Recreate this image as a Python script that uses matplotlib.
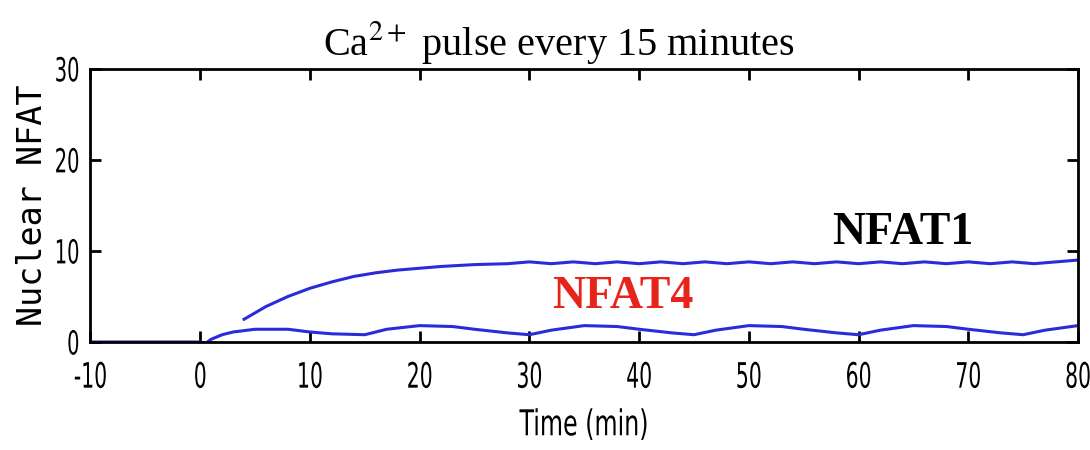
import matplotlib
matplotlib.use("Agg")
import matplotlib.pyplot as plt
from matplotlib.patheffects import AbstractPathEffect
from matplotlib.transforms import Affine2D

# values
nfat1_t = [4, 6, 8, 10, 12, 14, 16, 18, 20, 22, 25, 28, 30, 32, 34, 36, 38, 40,
           42, 44, 46, 48, 50, 52, 54, 56, 58, 60, 62, 64, 66, 68, 70, 72, 74,
           76, 78, 80]
nfat1_y = [2.5, 3.9, 5.0, 5.9, 6.6, 7.2, 7.6, 7.9, 8.1, 8.3, 8.5, 8.6, 8.8, 8.6,
           8.8, 8.6, 8.8, 8.6, 8.8, 8.6, 8.8, 8.6, 8.8, 8.6, 8.8, 8.6, 8.8, 8.6,
           8.8, 8.6, 8.8, 8.6, 8.8, 8.6, 8.8, 8.6, 8.8, 9.0]

nfat4_t = [-10, 0, 0.5, 1, 2, 3, 5, 8, 10, 12, 15, 17, 20, 23, 25, 28, 30, 32,
           35, 38, 40, 43, 45, 47, 50, 53, 55, 58, 60, 62, 65, 68, 70, 73, 75,
           77, 80]
nfat4_y = [0, 0, -0.15, 0.3, 0.8, 1.1, 1.4, 1.4, 1.1, 0.9, 0.8, 1.4, 1.8, 1.7,
           1.4, 1.0, 0.8, 1.3, 1.8, 1.7, 1.4, 1.0, 0.8, 1.3, 1.8, 1.7, 1.4, 1.0,
           0.8, 1.3, 1.8, 1.7, 1.4, 1.0, 0.8, 1.3, 1.8]

xticks = [-10, 0, 10, 20, 30, 40, 50, 60, 70, 80]
yticks = [0, 10, 20, 30]

plt.rcParams['mathtext.fontset'] = 'stix'
plt.rcParams['axes.unicode_minus'] = False
plt.rcParams['path.simplify'] = False


class Squeeze(AbstractPathEffect):
    """draw text narrower and taller (old matlab screen font look)"""
    def __init__(self, sx=0.8, sy=1.3, anchor='center'):
        super().__init__()
        self.sx, self.sy, self.anchor = sx, sy, anchor

    def draw_path(self, renderer, gc, tpath, affine, rgbFace=None):
        bb = tpath.get_extents(affine)
        cx = bb.x1 if self.anchor == 'right' else (bb.x0 + bb.x1) / 2
        cy = (bb.y0 + bb.y1) / 2
        squeeze = (Affine2D().translate(-cx, -cy)
                   .scale(self.sx, self.sy).translate(cx, cy))
        renderer.draw_path(gc, tpath, affine + squeeze, rgbFace)


serif = ['Liberation Serif', 'DejaVu Serif']

fig = plt.figure(figsize=(10.9, 4.5), dpi=100)
ax = fig.add_axes([0.083, 0.24, 0.906, 0.607])

line_color = '#2b2bd9'
ax.plot(nfat4_t, nfat4_y, color=line_color, lw=2.2)
ax.plot(nfat1_t, nfat1_y, color=line_color, lw=2.2)

ax.set_xlim(-10, 80)
ax.set_ylim(0, 30)
ax.set_xticks(xticks)
ax.set_yticks(yticks)
ax.tick_params(direction='in', length=8, width=2, top=True, right=True,
               labelsize=14)
ax.tick_params(axis='x', pad=18)
ax.tick_params(axis='y', pad=8)
for lab in ax.get_xticklabels():
    lab.set_family('DejaVu Sans')
    lab.set_path_effects([Squeeze(1.05, 1.8)])
for lab in ax.get_yticklabels():
    lab.set_family('DejaVu Sans')
    lab.set_path_effects([Squeeze(1.0, 1.7, 'right')])
for s in ax.spines.values():
    s.set_linewidth(2)

ax.set_xlabel('Time (min)', family='DejaVu Sans', fontsize=19, labelpad=19,
              path_effects=[Squeeze(0.9, 1.35)])
ax.set_ylabel('Nuclear NFAT', family=['DejaVu Sans Mono'], fontsize=24,
              labelpad=4)
ax.set_title('Ca$^{2+}$ pulse every 15 minutes', family=serif, fontsize=29,
             pad=10, x=0.474)

ax.text(64, 12.0, 'NFAT1', family=serif, fontweight='bold', fontsize=33,
        color='black', ha='center', va='center')
ax.text(38.5, 4.9, 'NFAT4', family=serif, fontweight='bold', fontsize=33,
        color='#e8231b', ha='center', va='center')

fig.savefig('out.png', dpi=100)
